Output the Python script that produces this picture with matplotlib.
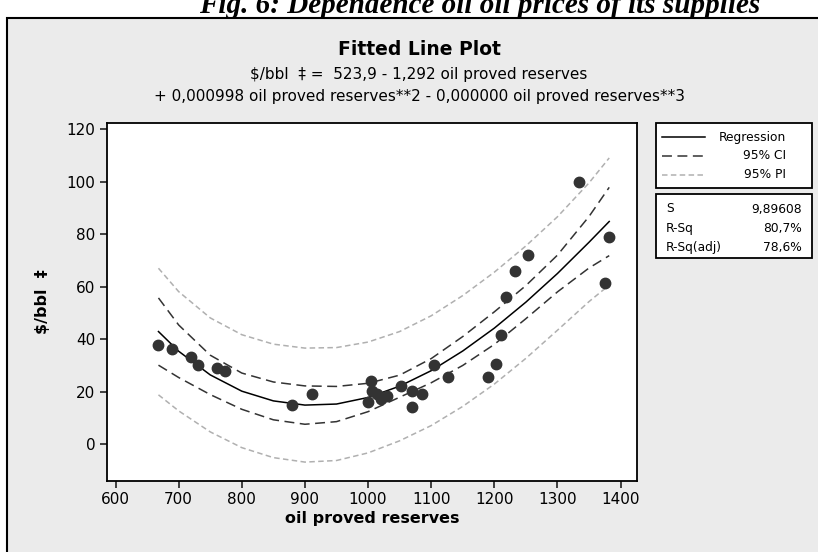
import numpy as np
import matplotlib
matplotlib.use("Agg")
import matplotlib.pyplot as plt
from matplotlib.patches import Rectangle
from matplotlib.lines import Line2D

# Daten
reserves = [668, 689, 719, 730, 761, 773, 879, 911, 1004, 1000, 1007, 1014, 1021, 1030,
            1052, 1069, 1069, 1085, 1105, 1127, 1190, 1203, 1210, 1219, 1233, 1253,
            1334, 1382, 1376]
price = [37.7, 36.2, 33.4, 30.1, 29.2, 27.8, 14.9, 19.2, 24.3, 16.0, 20.2, 19.4, 17.5, 18.4,
         22.1, 20.4, 14.4, 19.2, 30.1, 25.7, 25.8, 30.8, 41.5, 56.2, 66.0, 72.0,
         99.8, 79.1, 61.6]

# Kurven (Regression, 95% CI, 95% PI)
curve_x = [668, 700, 750, 800, 850, 900, 950, 1000, 1050, 1100, 1150, 1200, 1250, 1300, 1350, 1382]
fit = [43.0, 35.5, 26.5, 20.3, 16.6, 15.0, 15.4, 17.9, 22.2, 28.1, 35.6, 44.3, 54.2, 65.1, 77.0, 84.9]
ci_upper = [55.8, 45.5, 34.0, 27.2, 23.8, 22.3, 22.1, 23.3, 26.4, 32.7, 41.1, 50.5, 60.5, 72.1, 86.8, 97.9]
ci_lower = [30.2, 25.5, 19.0, 13.4, 9.4, 7.7, 8.7, 12.5, 18.0, 23.5, 30.1, 38.1, 47.9, 58.1, 67.2, 71.9]
pi_upper = [67.1, 58.2, 48.2, 41.8, 38.2, 36.7, 36.9, 39.0, 43.0, 49.0, 56.7, 65.6, 75.6, 86.7, 99.6, 109.1]
pi_lower = [18.9, 12.8, 4.8, -1.2, -5.0, -6.7, -6.1, -3.2, 1.4, 7.2, 14.5, 23.0, 32.8, 43.5, 54.4, 60.7]

stat_names = ["S", "R-Sq", "R-Sq(adj)"]
stat_values = ["9,89608", "80,7%", "78,6%"]

W, H = 818, 552
def fx(px):
    return px / W
def fy(py):
    return 1 - py / H

plt.rcParams['font.family'] = ['DejaVu Sans']
fig = plt.figure(figsize=(W / 100, H / 100), dpi=100)
fig.patch.set_facecolor("white")

# grauer Rahmen
fig.patches.append(Rectangle((fx(7), fy(H + 10)), 1.2, fy(18) - fy(H + 10),
                             transform=fig.transFigure, facecolor="#ebebeb",
                             edgecolor="black", linewidth=1.5, zorder=-5))

fig.text(fx(480), fy(13), "Fig. 6: Dependence oil oil prices of its supplies",
         family="Liberation Serif", weight="bold", style="italic", fontsize=21,
         ha="center", va="baseline")

ax = fig.add_axes([fx(106.7), fy(481), fx(637) - fx(106.7), fy(123) - fy(481)])
ax.set_zorder(3)
ax.set_facecolor("white")

ax.plot(curve_x, pi_upper, color="#b0b0b0", lw=1.1, dashes=(3.6, 2.2))
ax.plot(curve_x, pi_lower, color="#b0b0b0", lw=1.1, dashes=(3.6, 2.2))
ax.plot(curve_x, ci_upper, color="#333333", lw=1.1, dashes=(6.5, 3.6))
ax.plot(curve_x, ci_lower, color="#333333", lw=1.1, dashes=(6.5, 3.6))
ax.plot(curve_x, fit, color="black", lw=1.1)
ax.plot(reserves, price, "o", color="#333333", ms=7.5, mec="#333333")

ax.set_xlim(586, 1426)
ax.set_ylim(-13.9, 122.4)
ax.set_xticks(np.arange(600, 1401, 100))
ax.set_yticks(np.arange(0, 121, 20))
ax.tick_params(direction="out", length=5, width=1.2, labelsize=11, color="#222222", pad=3)
for s in ax.spines.values():
    s.set_linewidth(1.3)
ax.set_xlabel("oil proved reserves", fontsize=11.5, weight="bold", labelpad=3)
ax.set_ylabel("$/bbl  \u2021", fontsize=11.5, weight="bold", labelpad=12)

# Titel
fig.text(fx(419), fy(49), "Fitted Line Plot", fontsize=13.5, weight="bold", ha="center", va="center")
fig.text(fx(419), fy(75), "\\$/bbl  \u2021 =  523,9 - 1,292 oil proved reserves",
         fontsize=11, ha="center", va="center")
fig.text(fx(419), fy(97), "+ 0,000998 oil proved reserves**2 - 0,000000 oil proved reserves**3",
         fontsize=11, ha="center", va="center")

# Legende
fig.patches.append(Rectangle((fx(656), fy(188)), fx(812) - fx(656), fy(123) - fy(188),
                             transform=fig.transFigure, facecolor="white",
                             edgecolor="black", linewidth=1.3, zorder=1))
leg = [("Regression", "black", None, 137), ("95% CI", "#333333", (6.5, 3.6), 156),
       ("95% PI", "#b0b0b0", (3.6, 2.2), 175)]
for label, col, dash, yy in leg:
    ln = Line2D([fx(662), fx(705)], [fy(yy), fy(yy)], transform=fig.transFigure,
                color=col, lw=1.1, zorder=2)
    if dash:
        ln.set_dashes(dash)
    fig.lines.append(ln)
    fig.text(fx(786), fy(yy), label, fontsize=8.8, ha="right", va="center")

fig.patches.append(Rectangle((fx(656), fy(258)), fx(812) - fx(656), fy(194) - fy(258),
                             transform=fig.transFigure, facecolor="white",
                             edgecolor="black", linewidth=1.3, zorder=1))
for i, (n, v) in enumerate(zip(stat_names, stat_values)):
    yy = 209 + i * 19.5
    fig.text(fx(666), fy(yy), n, fontsize=8.8, ha="left", va="center")
    fig.text(fx(802), fy(yy), v, fontsize=8.8, ha="right", va="center")

fig.savefig("out.png", dpi=100)
